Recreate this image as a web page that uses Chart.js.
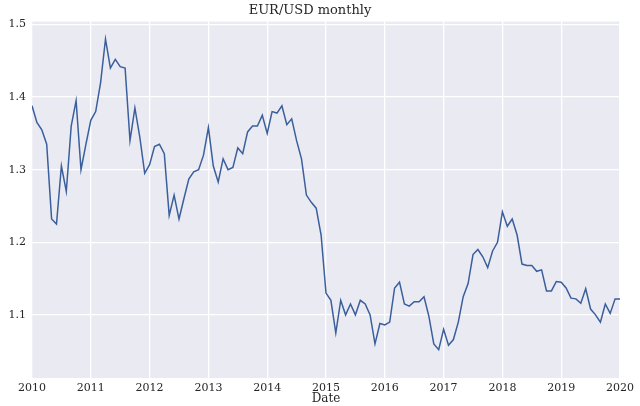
<!DOCTYPE html>
<html><head><meta charset="utf-8">
<script src="https://cdn.jsdelivr.net/npm/chart.js@4"></script>
<style>html,body{margin:0;background:#fff}#c{width:640px;height:406px}</style>
</head><body><div id="c"><canvas id="chart"></canvas></div>
<script>
var startYear = 2010;
var rates = [
  1.388,1.365,1.355,1.335,1.232,1.225,1.305,1.270,1.360,1.395,1.300,1.335,
  1.368,1.380,1.420,1.480,1.440,1.452,1.442,1.440,1.340,1.385,1.345,1.295,
  1.307,1.332,1.335,1.322,1.237,1.265,1.232,1.260,1.287,1.297,1.300,1.320,
  1.358,1.305,1.283,1.315,1.300,1.303,1.330,1.322,1.352,1.360,1.360,1.375,
  1.350,1.380,1.378,1.388,1.362,1.370,1.340,1.315,1.265,1.255,1.247,1.210,
  1.130,1.120,1.075,1.120,1.100,1.115,1.100,1.120,1.115,1.100,1.060,1.088,
  1.086,1.090,1.137,1.145,1.115,1.112,1.118,1.118,1.125,1.098,1.060,1.052,
  1.080,1.058,1.066,1.090,1.125,1.143,1.183,1.190,1.180,1.165,1.188,1.200,
  1.242,1.222,1.232,1.210,1.170,1.168,1.168,1.160,1.162,1.133,1.133,1.146,
  1.145,1.137,1.123,1.122,1.116,1.136,1.108,1.100,1.090,1.115,1.102,1.122,
  1.122
];
var yTicks = [1.1, 1.2, 1.3, 1.4, 1.5];

var points = rates.map(function (v, i) { return {x: startYear + i / 12, y: v}; });

var bgPlugin = {
  id: 'bg',
  beforeDraw: function (chart) {
    var a = chart.chartArea, ctx = chart.ctx;
    ctx.save();
    ctx.fillStyle = '#eaeaf2';
    ctx.fillRect(a.left, a.top, a.right - a.left, a.bottom - a.top);
    ctx.restore();
  }
};

Chart.defaults.font.family = 'DejaVu Serif';
Chart.defaults.color = '#262626';

new Chart(document.getElementById('chart'), {
  type: 'scatter',
  data: {datasets: [{
    data: points, showLine: true, borderColor: '#3a5f9c', borderWidth: 1.5,
    pointRadius: 0, tension: 0
  }]},
  options: {
    responsive: true, maintainAspectRatio: false, animation: false,
    layout: {padding: {top: 0, right: 20, left: 0, bottom: 0}},
    plugins: {
      legend: {display: false}, tooltip: {enabled: false},
      title: {display: true, text: 'EUR/USD monthly', font: {size: 13, weight: 'normal'}, padding: {top: 3, bottom: 3}}
    },
    scales: {
      x: {
        min: 2010, max: 2020,
        afterFit: function (s) { s.height = 28; },
        grid: {color: '#ffffff', lineWidth: 1.3, drawTicks: false},
        border: {display: false},
        ticks: {stepSize: 1, padding: 4, font: {size: 11}, callback: function (v) { return String(v); }},
        title: {display: true, text: 'Date', font: {size: 12}, padding: {top: 0, bottom: 0}}
      },
      y: {
        min: 1.013, max: 1.504,
        afterBuildTicks: function (s) { s.ticks = yTicks.map(function (v) { return {value: v}; }); },
        afterFit: function (s) { s.width = 32; },
        grid: {color: '#ffffff', lineWidth: 1.3, drawTicks: false},
        border: {display: false},
        ticks: {padding: 6, font: {size: 11}, callback: function (v) { return v.toFixed(1); }}
      }
    }
  },
  plugins: [bgPlugin]
});
</script>
</body></html>
